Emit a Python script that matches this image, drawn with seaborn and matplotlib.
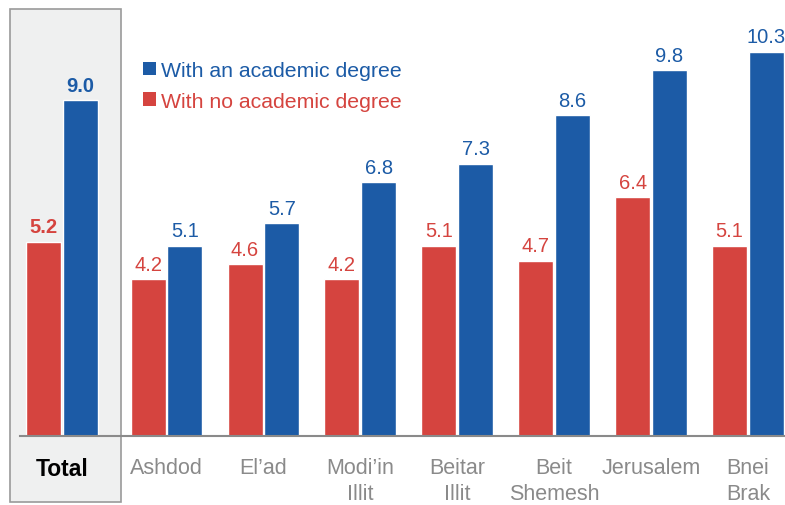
import matplotlib
matplotlib.use("Agg")
import matplotlib.pyplot as plt
import seaborn as sns
import pandas as pd
from matplotlib.patches import Rectangle, Patch

categories = ["Total", "Ashdod", "El’ad", "Modi’in\nIllit", "Beitar\nIllit", "Beit\nShemesh", "Jerusalem", "Bnei\nBrak"]
no_degree = [5.2, 4.2, 4.6, 4.2, 5.1, 4.7, 6.4, 5.1]
with_degree = [9.0, 5.1, 5.7, 6.8, 7.3, 8.6, 9.8, 10.3]
series = ["With no academic degree", "With an academic degree"]

RED = "#d5443f"
BLUE = "#1c5ba6"

sns.set_theme(style="white")
plt.rcParams["font.family"] = ["Liberation Sans", "DejaVu Sans"]

# group positions (Total sits slightly further left)
pos = [float(i) - (0.08 if i == 0 else 0.0) for i in range(len(categories))]

df = pd.DataFrame({
    "pos": pos * 2,
    "value": no_degree + with_degree,
    "series": [series[0]] * len(categories) + [series[1]] * len(categories),
})

fig = plt.figure(figsize=(7.85, 5.06), dpi=100)
# grey "Total" panel
fig.patches.append(Rectangle((10 / 785, 1 - 503 / 506), 111 / 785, 493 / 506,
                             transform=fig.transFigure, facecolor="#eff0f0",
                             edgecolor="#9a9a9a", linewidth=1.2, zorder=-5))

ax = fig.add_axes([20 / 785, 1 - 437 / 506, 765 / 785, 437 / 506])
ax.patch.set_visible(False)
ax.set_zorder(2)

sns.barplot(data=df, x="pos", y="value", hue="series", hue_order=series,
            palette=[RED, BLUE], native_scale=True, width=0.76, gap=0.05,
            saturation=1, ax=ax, legend=False, errorbar=None)

spacing_px = 96.9
ax.set_xlim(1 - 146.5 / spacing_px, 7 + 37 / spacing_px)
ax.set_ylim(0, 437 / 37.3)

for cont, vals, col in zip(ax.containers, [no_degree, with_degree], [RED, BLUE]):
    texts = ax.bar_label(cont, labels=[f"{v:.1f}" for v in vals], padding=4,
                         color=col, fontsize=14.5)
    texts[0].set_fontweight("bold")

ax.set_xticks(pos)
ax.set_xticklabels(categories, fontsize=15.5, color="#8a8a8a", linespacing=1.3)
tl = ax.get_xticklabels()
tl[0].set_fontweight("bold")
tl[0].set_color("black")
tl[0].set_fontsize(16.5)
ax.tick_params(axis="x", length=0, pad=15)
ax.set_yticks([])
ax.set_xlabel("")
ax.set_ylabel("")
for s in ["top", "right", "left"]:
    ax.spines[s].set_visible(False)
ax.spines["bottom"].set_color("#8a8a8a")
ax.spines["bottom"].set_linewidth(1.5)

handles = [Patch(facecolor=BLUE, edgecolor="none"), Patch(facecolor=RED, edgecolor="none")]
leg = fig.legend(handles, ["With an academic degree", "With no academic degree"],
                 loc="upper left", bbox_to_anchor=(143 / 785, 1 - 62 / 506),
                 frameon=False, fontsize=15.3, handlelength=0.6, handleheight=0.6,
                 handletextpad=0.25, labelspacing=0.55, borderpad=0, borderaxespad=0,
                 labelcolor=[BLUE, RED])

fig.savefig("out.png", dpi=100)
